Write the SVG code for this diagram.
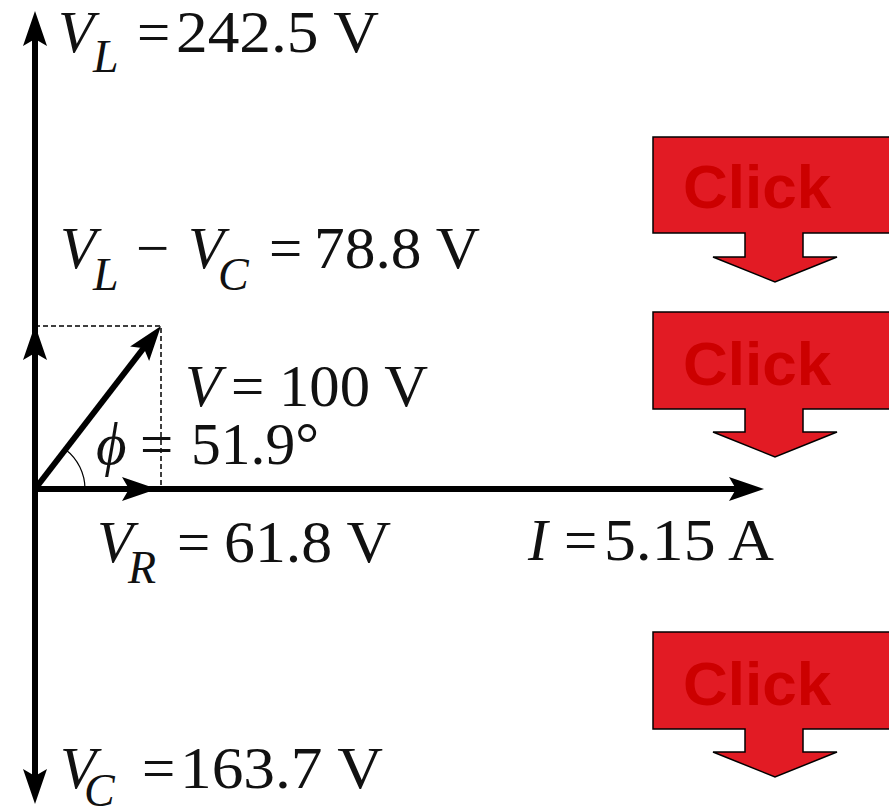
<svg xmlns="http://www.w3.org/2000/svg" xmlns:xlink="http://www.w3.org/1999/xlink" width="889" height="811" viewBox="0 0 889 811">
<style>
.t{font-family:"Liberation Serif","Times New Roman",serif;font-size:59px;fill:#111}
.i{font-style:italic}
.s{font-style:italic;font-size:46px}
.ln{stroke:#000;stroke-width:6;fill:none}
.hd{fill:#000}
.dash{stroke:#000;stroke-width:1.5;stroke-dasharray:5 3;fill:none}
.btn{fill:#e21b24;stroke:#000;stroke-width:1.5}
.ct{font-family:"Liberation Sans",Arial,sans-serif;font-weight:bold;font-size:62px;fill:#cc0000}
</style>
<defs>
<path id="head" d="M0,0 L-35,-12 L-28,0 L-35,12 Z"/>
</defs>
<rect width="889" height="811" fill="#fff"/>
<g id="connectors">
<line class="ln" x1="35" y1="489" x2="35" y2="34"/>
<line class="ln" x1="35" y1="489" x2="35" y2="781"/>
<line class="ln" x1="35" y1="489" x2="741" y2="489"/>
<line class="ln" x1="35" y1="489" x2="146" y2="345"/>
<use class="hd" xlink:href="#head" transform="translate(35,11) rotate(-90)"/>
<use class="hd" xlink:href="#head" transform="translate(35,804) rotate(90)"/>
<use class="hd" xlink:href="#head" transform="translate(764,489)"/>
<use class="hd" xlink:href="#head" transform="translate(157,489)"/>
<use class="hd" xlink:href="#head" transform="translate(35,325) rotate(-90)"/>
<use class="hd" xlink:href="#head" transform="translate(161,326) rotate(-52.35)"/>
<path class="dash" d="M35,326 H161 V489"/>
<path d="M85,489 A50,50 0 0 0 65.5,449.4" fill="none" stroke="#000" stroke-width="1.2"/>
</g>
<g id="label-VL">
<text class="t" y="52"><tspan class="i" x="58">V</tspan><tspan class="s" x="93" y="72">L</tspan><tspan x="137" y="52">=</tspan><tspan x="176" y="52" textLength="203" lengthAdjust="spacingAndGlyphs">242.5 V</tspan></text>
</g>
<g id="label-VLVC">
<text class="t" y="268"><tspan class="i" x="60">V</tspan><tspan class="s" x="93" y="290">L</tspan><tspan x="136" y="268">−</tspan><tspan class="i" x="188" y="268">V</tspan><tspan class="s" x="218" y="290">C</tspan><tspan x="269" y="268">=</tspan><tspan x="314" y="268" textLength="166" lengthAdjust="spacingAndGlyphs">78.8 V</tspan></text>
</g>
<g id="label-V">
<text class="t" y="406"><tspan class="i" x="185">V</tspan><tspan x="231">=</tspan><tspan x="279" textLength="149" lengthAdjust="spacingAndGlyphs">100 V</tspan></text>
</g>
<g id="label-phi">
<text class="t" y="464"><tspan class="i" x="96">ϕ</tspan><tspan x="140">=</tspan><tspan x="191" textLength="128" lengthAdjust="spacingAndGlyphs">51.9°</tspan></text>
</g>
<g id="label-VR">
<text class="t" y="562"><tspan class="i" x="97">V</tspan><tspan class="s" x="128" y="583">R</tspan><tspan x="177" y="562">=</tspan><tspan x="224" y="562" textLength="167" lengthAdjust="spacingAndGlyphs">61.8 V</tspan></text>
</g>
<g id="label-I">
<text class="t" y="560"><tspan class="i" x="528">I</tspan><tspan x="564">=</tspan><tspan x="604" textLength="170" lengthAdjust="spacingAndGlyphs">5.15 A</tspan></text>
</g>
<g id="label-VC">
<text class="t" y="788"><tspan class="i" x="60">V</tspan><tspan class="s" x="84" y="806">C</tspan><tspan x="142" y="788">=</tspan><tspan x="180" y="788" textLength="203" lengthAdjust="spacingAndGlyphs">163.7 V</tspan></text>
</g>
<g id="click1">
<path class="btn" d="M653,137 H895 V233 H803 V257 H837 L775,282 L713,257 H745 V233 H653 Z"/>
<text class="ct" x="683" y="208">Click</text>
</g>
<g id="click2">
<path class="btn" d="M653,312 H895 V409 H803 V432 H837 L775,457 L713,432 H745 V409 H653 Z"/>
<text class="ct" x="683" y="385">Click</text>
</g>
<g id="click3">
<path class="btn" d="M653,632 H895 V729 H803 V752 H837 L775,777 L713,752 H745 V729 H653 Z"/>
<text class="ct" x="683" y="705">Click</text>
</g>
</svg>
